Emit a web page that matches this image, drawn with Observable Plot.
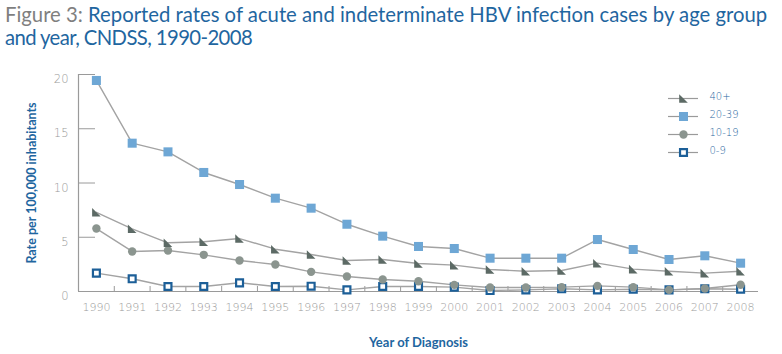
<!DOCTYPE html>
<html>
<head>
<meta charset="utf-8">
<script src="https://cdn.jsdelivr.net/npm/d3@7"></script>
<script src="https://cdn.jsdelivr.net/npm/@observablehq/plot@0.6"></script>
<style>
  html, body { margin: 0; padding: 0; background: #fff; }
  #wrap { position: relative; width: 782px; height: 354px; overflow: hidden; }
  #title { position: absolute; left: 5px; top: 3px; width: 777px; font-family: Lato, "Open Sans", sans-serif; font-size: 20.3px; line-height: 23px; color: #1f66a0; white-space: nowrap; }
  #title .fig { color: #7f7f7f; }
  #title .l2 { letter-spacing: -0.6px; }
  #chart { position: absolute; left: 0; top: 58px; }
  #legend { position: absolute; left: 660px; top: 88px; }
</style>
</head>
<body>
<div id="wrap">
  <div id="title"><span class="fig">Figure 3:</span> Reported rates of acute and indeterminate HBV infection cases by age group<br><span class="l2">and year, CNDSS, 1990-2008</span></div>
  <div id="chart"></div>
  <div id="legend"></div>
</div>
<script>
const years = [1990,1991,1992,1993,1994,1995,1996,1997,1998,1999,2000,2001,2002,2003,2004,2005,2006,2007,2008];
const seriesNames = ["40+", "20-39", "10-19", "0-9"];
const rate40plus = [7.3,5.78,4.49,4.58,4.88,3.9,3.41,2.86,2.95,2.58,2.43,2.03,1.87,1.94,2.61,2.06,1.87,1.69,1.87];
const rate20to39 = [19.45,13.67,12.87,10.97,9.86,8.6,7.68,6.2,5.1,4.15,3.96,3.07,3.07,3.07,4.79,3.87,2.95,3.29,2.61];
const rate10to19 = [5.8,3.69,3.78,3.38,2.86,2.49,1.81,1.38,1.1,0.95,0.61,0.37,0.37,0.4,0.52,0.4,0.15,0.28,0.62];
const rate0to9 = [1.69,1.17,0.46,0.46,0.8,0.46,0.49,0.15,0.46,0.46,0.4,0.09,0.15,0.25,0.15,0.21,0.15,0.25,0.21];
const yTicks = [0, 5, 10, 15, 20];
const xTitle = "Year of Diagnosis";
const yTitle = "Rate per 100,000 inhabitants";

const seriesValues = {"40+": rate40plus, "20-39": rate20to39, "10-19": rate10to19, "0-9": rate0to9};

// right triangle marker (◣)
const rightTriangle = {
  draw(context, size) {
    const h = Math.sqrt(size / Math.PI);
    context.moveTo(-h, -h);
    context.lineTo(h, h);
    context.lineTo(-h, h);
    context.closePath();
  }
};

const style = {
  "40+":   {symbol: rightTriangle, fill: "#5c6a65", stroke: "none", strokeWidth: 0, r: 4.3},
  "20-39": {symbol: "square", fill: "#6ea7d5", stroke: "none", strokeWidth: 0, r: 5.1},
  "10-19": {symbol: "circle", fill: "#8b958f", stroke: "none", strokeWidth: 0, r: 4.2},
  "0-9":   {symbol: "square", fill: "#ffffff", stroke: "#1c5f98", strokeWidth: 2.2, r: 3.9}
};

const table = seriesNames.flatMap(s => years.map((yr, i) => ({series: s, year: yr, value: seriesValues[s][i]})));
const boundaries = years.slice(0, -1).map(y => y + 0.5);
const xDomain = [years[0] - 0.5, years[years.length - 1] + 0.5];
const drawOrder = ["0-9", "10-19", "20-39", "40+"];

const axisColor = "#9a9a9a";
const labelFont = "'DejaVu Sans', sans-serif";

const chart = Plot.plot({
  width: 782,
  height: 296,
  marginLeft: 78,
  marginRight: 24,
  marginTop: 16,
  marginBottom: 63,
  x: {domain: xDomain, axis: null},
  y: {domain: [0, 20], axis: null},
  style: {fontFamily: labelFont, background: "transparent"},
  marks: [
    // y tick labels
    Plot.axisY({ticks: yTicks, tickSize: 0, tickPadding: 10, dy: 5, fill: "#9a9a9a", fontSize: 11.5, fontWeight: 300, label: null}),
    // y inward ticks
    Plot.axisY({ticks: yTicks, tickSize: 17, dx: 17, tickFormat: () => "", stroke: axisColor, label: null}),
    // x tick labels
    Plot.axisX({ticks: years, tickSize: 0, tickPadding: 12, tickFormat: d => String(d), fill: "#9a9a9a", fontSize: 11, fontWeight: 300, label: null}),
    // x band boundary ticks
    Plot.axisX({ticks: boundaries, tickSize: 5, dy: -5, tickFormat: () => "", stroke: axisColor, label: null}),
    Plot.ruleX([xDomain[0]], {stroke: axisColor, strokeWidth: 1.2}),
    Plot.ruleY([0], {stroke: axisColor, strokeWidth: 1.2}),
    // lines
    ...seriesNames.map(s => Plot.line(table.filter(d => d.series === s), {x: "year", y: "value", stroke: "#a3a3a3", strokeWidth: 1.4})),
    // markers
    ...drawOrder.map(s => Plot.dot(table.filter(d => d.series === s), {x: "year", y: "value", ...style[s]})),
    // axis titles
    Plot.text([yTitle], {text: d => d, frameAnchor: "left", textAnchor: "middle", lineAnchor: "middle", dx: -47, rotate: -90, fill: "#1f66a0", fontSize: 12.5, fontWeight: "bold", fontFamily: "Lato, sans-serif"}),
    Plot.text([xTitle], {text: d => d, frameAnchor: "bottom", lineAnchor: "middle", dy: 51, fill: "#1f66a0", fontSize: 13, fontWeight: "bold", fontFamily: "Lato, sans-serif"})
  ]
});
document.getElementById("chart").appendChild(chart);

const legend = Plot.plot({
  width: 120,
  height: 75,
  marginLeft: 8,
  marginRight: 82,
  marginTop: 10,
  marginBottom: 11,
  x: {axis: null},
  y: {type: "point", domain: seriesNames, axis: null, padding: 0},
  style: {background: "transparent"},
  marks: [
    Plot.ruleY(seriesNames, {y: d => d, stroke: "#9a9a9a", strokeWidth: 1.2}),
    ...seriesNames.map(s => Plot.dot([s], {y: d => d, ...style[s]})),
    Plot.text(seriesNames, {y: d => d, text: d => d, frameAnchor: "right", dx: 11, dy: -2, textAnchor: "start", fill: "#1f66a0", fontSize: 10, fontFamily: "'DejaVu Sans', sans-serif", fontWeight: 300, letterSpacing: 1})
  ]
});
document.getElementById("legend").appendChild(legend);
</script>
</body>
</html>
